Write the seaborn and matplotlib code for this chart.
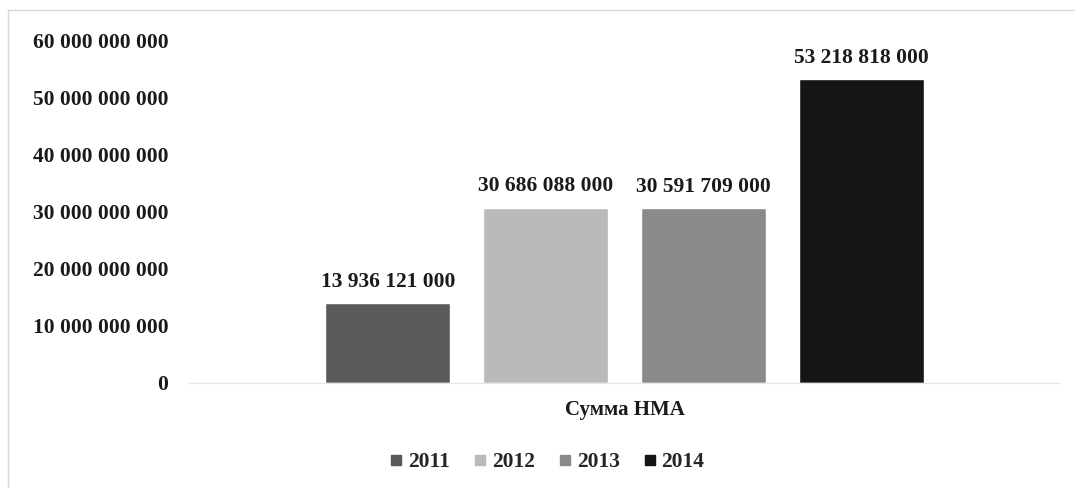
import matplotlib
matplotlib.use('Agg')
import matplotlib.pyplot as plt
import pandas as pd
import seaborn as sns
from matplotlib.lines import Line2D

categories = ['Сумма НМА']
years = ['2011', '2012', '2013', '2014']
values = [13936121000, 30686088000, 30591709000, 53218818000]
colors = ['#5a5a5a', '#bababa', '#8a8a8a', '#151515']
yticks = [0, 10e9, 20e9, 30e9, 40e9, 50e9, 60e9]

def fmt(v):
    return '{:,.0f}'.format(v).replace(',', ' ')

df = pd.DataFrame({'cat': categories * len(years), 'year': years, 'value': values})

sns.set_style('white')
plt.rcParams['font.family'] = ['Liberation Serif', 'DejaVu Serif']
plt.rcParams['font.weight'] = 'bold'

fig = plt.figure(figsize=(10.75, 4.88), dpi=100)
ax = fig.add_axes([189 / 1075, 105 / 488, 871 / 1075, 343 / 488])

sns.barplot(data=df, x='cat', y='value', hue='year', palette=colors,
            width=0.725, gap=0.21, ax=ax, legend=False, saturation=1)

for p, v in zip(ax.patches, values):
    ax.annotate(fmt(v), (p.get_x() + p.get_width() / 2, p.get_height()),
                xytext=(0, 8), textcoords='offset points', ha='center', va='bottom',
                fontsize=15.5, fontweight='bold', color='#1a1a1a')

ax.set_ylim(0, 60e9)
ax.set_xlim(-0.5, 0.5)
ax.set_yticks(yticks)
ax.set_yticklabels([fmt(t) for t in yticks], fontsize=15.5, fontweight='bold', color='#1a1a1a')
ax.tick_params(axis='y', length=0, pad=15)
ax.tick_params(axis='x', length=0, pad=12, labelsize=15, labelcolor='#1a1a1a')
ax.set_xlabel('')
ax.set_ylabel('')
for s in ['top', 'right', 'left']:
    ax.spines[s].set_visible(False)
ax.spines['bottom'].set_color('#e6e6e6')
ax.spines['bottom'].set_linewidth(1)

handles = [Line2D([], [], marker='s', linestyle='', color=c, markersize=7) for c in colors]
fig.legend(handles, years, loc='center', bbox_to_anchor=(546 / 1075, 1 - 462 / 488),
           ncol=4, frameon=False, fontsize=15.5, handlelength=0.8, handletextpad=0.15,
           columnspacing=1.0)

# chart frame (left and top edges)
fig.add_artist(Line2D([8 / 1075, 8 / 1075], [0, 1 - 10 / 488], color='#d9d9d9', lw=1))
fig.add_artist(Line2D([8 / 1075, 1], [1 - 10 / 488, 1 - 10 / 488], color='#d9d9d9', lw=1))

fig.savefig('out.png', dpi=100)
